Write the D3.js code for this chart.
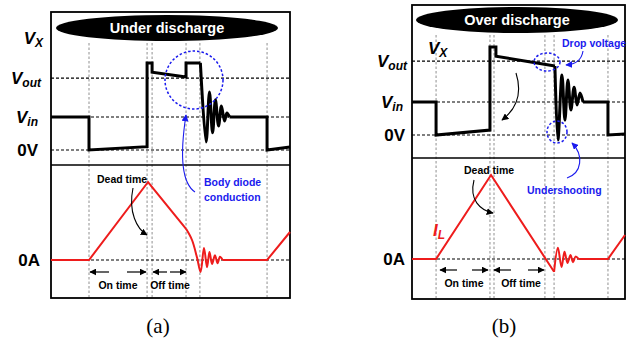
<!DOCTYPE html>
<html>
<head>
<meta charset="utf-8">
<script src="https://cdn.jsdelivr.net/npm/d3@7"></script>
<style>
  body { margin: 0; background: #fff; }
  svg { display: block; font-family: "Liberation Sans", Arial, sans-serif; }
</style>
</head>
<body>
<div class="display"></div>
<script>
const WIDTH = 634;
const HEIGHT = 346;

// time runs 0..100 across each box, voltage in units of Vin, current in units of peak
const gridA = [15.9, 40.2, 42.3, 56.5, 62.3, 90.4];
const gridB = [11.3, 36.6, 38.5, 62.4, 66.7, 92.0];

const levelNames = ['out', 'in', '0V'];
const levelsA = [2.18, 1, 0];
const levelsB = [2.24, 1, 0];

const vxA = [[0, 1], [15.9, 1], [15.9, 0], [40.2, 0.1], [40.2, 2.64], [42.3, 2.64], [42.3, 2.36], [56.5, 2.21], [56.5, 2.64], [62.5, 2.64]];
const vxRingA = [[62.5, 2.64], [64.9, 0.24], [66.3, 1.76], [67.6, 0.52], [68.8, 1.52], [70.1, 0.73], [71.3, 1.33], [72.6, 0.88], [73.6, 1.12], [74.7, 1]];
const vxTailA = [[74.7, 1], [90.4, 1], [90.4, 0], [100, 0.09]];

const ilA = [[0, 0], [15.9, 0], [40.6, 0.975], [56.5, 0.39]];
const ilRingA = [[56.5, 0.39], [59.0, 0.25], [61.1, 0.03], [62.6, -0.15], [64.0, 0.15], [65.3, -0.09], [66.3, 0.10], [67.4, -0.05], [68.6, 0.06], [69.7, -0.04], [70.7, 0.04], [71.8, 0]];
const ilTailA = [[71.8, 0], [90.4, 0], [100, 0.35]];

const vxB = [[0, 1], [11.3, 1], [11.3, 0], [36.6, 0.15], [36.6, 2.67], [39.4, 2.67], [39.4, 2.39], [67.1, 2.09]];
const vxRingB = [[67.1, 2.09], [68.5, -0.15], [70.4, 1.82], [71.8, 0.45], [73.2, 1.67], [74.6, 0.76], [76.1, 1.45], [77.5, 0.91], [78.9, 1.27], [80.3, 1]];
const vxTailB = [[80.3, 1], [92, 1], [92, 0], [100, 0.03]];

const ilB = [[0, 0], [11.3, 0], [37.1, 1.05], [66.7, -0.16]];
const ilRingB = [[66.7, -0.16], [68.5, 0.14], [70.2, -0.10], [71.6, 0.09], [73.0, -0.05], [74.4, 0.05], [75.6, -0.04], [76.8, 0.03], [78.2, 0]];
const ilTailB = [[78.2, 0], [92, 0], [100, 0.30]];

const BLUE = '#1a1aee';
const RED = '#ee1c1c';

const svg = d3.select('.display')
  .append('svg')
  .attr('width', WIDTH)
  .attr('height', HEIGHT);

const defs = svg.append('defs');
function marker(id, color, size) {
  defs.append('marker')
    .attr('id', id)
    .attr('viewBox', '0 0 10 10')
    .attr('refX', 9).attr('refY', 5)
    .attr('markerWidth', size).attr('markerHeight', size)
    .attr('markerUnits', 'userSpaceOnUse')
    .attr('orient', 'auto')
    .append('path')
    .attr('d', 'M0,0 L10,5 L0,10 Z')
    .attr('fill', color);
}
marker('headK', '#000', 7);
marker('headB', BLUE, 7);

function drawPanel(p) {
  const g = svg.append('g');
  const x = d3.scaleLinear().domain([0, 100]).range([p.x0, p.x1]);
  const yV = d3.scaleLinear().domain([0, 1]).range([p.zeroV, p.vinY]);
  const yI = d3.scaleLinear().domain([0, 1]).range([p.zeroI, p.zeroI - 80]);

  // vertical timing guides
  g.selectAll('.guide')
    .data(p.grid)
    .enter()
    .append('line')
    .attr('x1', d => x(d)).attr('x2', d => x(d))
    .attr('y1', p.guideTop).attr('y2', p.y1)
    .attr('stroke', '#9a9a9a')
    .attr('stroke-width', 1.1)
    .attr('stroke-dasharray', '2.5,2');

  // horizontal reference levels
  g.selectAll('.level')
    .data(p.levels)
    .enter()
    .append('line')
    .attr('x1', p.x0).attr('x2', p.x1)
    .attr('y1', d => yV(d)).attr('y2', d => yV(d))
    .attr('stroke', '#000')
    .attr('stroke-width', 1.2)
    .attr('stroke-dasharray', '3,2');
  g.append('line')
    .attr('x1', p.x0).attr('x2', p.x1)
    .attr('y1', yI(0)).attr('y2', yI(0))
    .attr('stroke', '#000')
    .attr('stroke-width', 1.2)
    .attr('stroke-dasharray', '3,2');

  // box
  g.append('rect')
    .attr('x', p.x0).attr('y', p.y0)
    .attr('width', p.x1 - p.x0).attr('height', p.y1 - p.y0)
    .attr('fill', 'none').attr('stroke', '#000').attr('stroke-width', 1.8);
  g.append('line')
    .attr('x1', p.x0).attr('x2', p.x1)
    .attr('y1', p.ymid).attr('y2', p.ymid)
    .attr('stroke', '#000').attr('stroke-width', 1.5);

  // title ellipse
  g.append('ellipse')
    .attr('cx', p.ex).attr('cy', p.ey)
    .attr('rx', p.erx).attr('ry', 13)
    .attr('fill', '#000');
  g.append('text')
    .attr('x', p.ex).attr('y', p.ey + 5)
    .attr('text-anchor', 'middle')
    .attr('fill', '#fff')
    .attr('font-weight', 'bold')
    .attr('font-size', 14.5)
    .text(p.title);

  const lineV = d3.line().x(d => x(d[0])).y(d => yV(d[1]));
  const ringV = d3.line().x(d => x(d[0])).y(d => yV(d[1])).curve(d3.curveCatmullRom.alpha(0.5));
  const lineI = d3.line().x(d => x(d[0])).y(d => yI(d[1]));
  const ringI = d3.line().x(d => x(d[0])).y(d => yI(d[1])).curve(d3.curveCatmullRom.alpha(0.5));

  [[p.vx, lineV], [p.vxRing, ringV], [p.vxTail, lineV]].forEach(([d, gen]) => {
    g.append('path').attr('d', gen(d))
      .attr('fill', 'none').attr('stroke', '#000')
      .attr('stroke-width', 3).attr('stroke-linejoin', 'miter');
  });
  [[p.il, lineI], [p.ilRing, ringI], [p.ilTail, lineI]].forEach(([d, gen]) => {
    g.append('path').attr('d', gen(d))
      .attr('fill', 'none').attr('stroke', RED)
      .attr('stroke-width', 2);
  });

  // left labels
  const lab = g.selectAll('.lab')
    .data(p.levels)
    .enter()
    .append('text')
    .attr('x', (d, i) => p.labelX[i])
    .attr('y', d => yV(d) + 6)
    .attr('text-anchor', 'end')
    .attr('font-weight', 'bold')
    .attr('font-size', 17);
  lab.each(function(d, i) {
    const t = d3.select(this);
    if (levelNames[i] === '0V') {
      t.text('0V');
    } else {
      t.append('tspan').attr('font-style', 'italic').text('V');
      t.append('tspan').attr('font-style', 'italic').attr('font-size', 12).attr('dy', 3).text(levelNames[i]);
    }
  });
  g.append('text')
    .attr('x', p.zeroLabelX).attr('y', yI(0) + 6)
    .attr('text-anchor', 'end')
    .attr('font-weight', 'bold').attr('font-size', 17)
    .text('0A');

  // Vx label
  const vx = g.append('text')
    .attr('x', p.vxLabel[0]).attr('y', p.vxLabel[1])
    .attr('text-anchor', p.vxAnchor)
    .attr('font-weight', 'bold').attr('font-style', 'italic').attr('font-size', 17);
  vx.append('tspan').text('V');
  vx.append('tspan').attr('font-size', 12).attr('dy', 3).text('X');

  // on/off time arrows
  g.selectAll('.tarrow')
    .data(p.timeArrows)
    .enter()
    .append('line')
    .attr('x1', d => d[0]).attr('x2', d => d[1])
    .attr('y1', p.arrowY).attr('y2', p.arrowY)
    .attr('stroke', '#000').attr('stroke-width', 1.2)
    .attr('marker-end', 'url(#headK)');
  g.append('text')
    .attr('x', p.onX).attr('y', p.arrowY + 17)
    .attr('text-anchor', 'middle').attr('font-size', 10.5).attr('font-weight', 'bold')
    .text('On time');
  g.append('text')
    .attr('x', p.offX).attr('y', p.arrowY + 17)
    .attr('text-anchor', 'middle').attr('font-size', 10.5).attr('font-weight', 'bold')
    .text('Off time');

  // dead time
  g.append('text')
    .attr('x', p.deadText[0]).attr('y', p.deadText[1])
    .attr('font-size', 10.5).attr('font-weight', 'bold')
    .text('Dead time');
  g.append('path')
    .attr('d', p.deadArrow)
    .attr('fill', 'none').attr('stroke', '#000').attr('stroke-width', 1.1)
    .attr('marker-end', 'url(#headK)');

  // caption
  g.append('text')
    .attr('x', p.capX).attr('y', 333)
    .attr('text-anchor', 'middle')
    .attr('font-family', '"Liberation Serif", "Times New Roman", serif')
    .attr('font-size', 21)
    .text(p.caption);

  return g;
}

const ga = drawPanel({
  x0: 51, x1: 290, y0: 12, y1: 298, ymid: 165,
  zeroV: 150, vinY: 117, zeroI: 260, guideTop: 43,
  grid: gridA, levels: levelsA,
  vx: vxA, vxRing: vxRingA, vxTail: vxTailA,
  il: ilA, ilRing: ilRingA, ilTail: ilTailA,
  ex: 167, ey: 28, erx: 111, title: 'Under discharge',
  labelX: [41, 38, 38], zeroLabelX: 40,
  vxLabel: [43, 44], vxAnchor: 'end',
  arrowY: 272, timeArrows: [[109, 90], [127, 146], [167, 153], [170, 186]],
  onX: 118, offX: 170,
  deadText: [97, 183], deadArrow: 'M133,188 C128,212 137,229 147,235',
  capX: 158, caption: '(a)'
});

ga.append('circle')
  .attr('cx', 194).attr('cy', 80).attr('r', 29)
  .attr('fill', 'none').attr('stroke', BLUE).attr('stroke-width', 1.5)
  .attr('stroke-dasharray', '2.5,2');
ga.append('path')
  .attr('d', 'M195,192 C183,184 179,160 186,115')
  .attr('fill', 'none').attr('stroke', BLUE).attr('stroke-width', 1.1)
  .attr('marker-end', 'url(#headB)');
ga.append('text').attr('x', 204).attr('y', 186)
  .attr('fill', BLUE).attr('font-size', 10.5).attr('font-weight', 'bold').text('Body diode');
ga.append('text').attr('x', 204).attr('y', 201)
  .attr('fill', BLUE).attr('font-size', 10.5).attr('font-weight', 'bold').text('conduction');

const gb = drawPanel({
  x0: 412, x1: 625, y0: 5, y1: 299, ymid: 158,
  zeroV: 135, vinY: 102, zeroI: 259, guideTop: 35,
  grid: gridB, levels: levelsB,
  vx: vxB, vxRing: vxRingB, vxTail: vxTailB,
  il: ilB, ilRing: ilRingB, ilTail: ilTailB,
  ex: 517, ey: 20, erx: 101, title: 'Over discharge',
  labelX: [407, 403, 405], zeroLabelX: 405,
  vxLabel: [428, 54], vxAnchor: 'start',
  arrowY: 270, timeArrows: [[457, 440], [472, 488], [511, 494], [528, 544]],
  onX: 464, offX: 521,
  deadText: [464, 174], deadArrow: 'M474,180 C469,200 480,210 493,213',
  capX: 504, caption: '(b)'
});

gb.append('ellipse')
  .attr('cx', 547).attr('cy', 62).attr('rx', 13).attr('ry', 9)
  .attr('fill', 'none').attr('stroke', BLUE).attr('stroke-width', 1.5)
  .attr('stroke-dasharray', '2.5,2');
gb.append('ellipse')
  .attr('cx', 557).attr('cy', 132).attr('rx', 10).attr('ry', 11)
  .attr('fill', 'none').attr('stroke', BLUE).attr('stroke-width', 1.5)
  .attr('stroke-dasharray', '2.5,2');
gb.append('text').attr('x', 562).attr('y', 47)
  .attr('fill', BLUE).attr('font-size', 10.5).attr('font-weight', 'bold').text('Drop voltage');
gb.append('path')
  .attr('d', 'M583,51 Q581,64 566,65')
  .attr('fill', 'none').attr('stroke', BLUE).attr('stroke-width', 1.1)
  .attr('marker-end', 'url(#headB)');
gb.append('text').attr('x', 527).attr('y', 194)
  .attr('fill', BLUE).attr('font-size', 10.5).attr('font-weight', 'bold').text('Undershooting');
gb.append('path')
  .attr('d', 'M567,178 C582,173 584,155 572,143')
  .attr('fill', 'none').attr('stroke', BLUE).attr('stroke-width', 1.1)
  .attr('marker-end', 'url(#headB)');
gb.append('path')
  .attr('d', 'M516,73 C523,95 515,110 502,120')
  .attr('fill', 'none').attr('stroke', '#000').attr('stroke-width', 1.1)
  .attr('marker-end', 'url(#headK)');
const il = gb.append('text')
  .attr('x', 433).attr('y', 236)
  .attr('fill', RED).attr('font-weight', 'bold').attr('font-style', 'italic').attr('font-size', 17);
il.append('tspan').text('I');
il.append('tspan').attr('font-size', 12).attr('dy', 3).text('L');
</script>
</body>
</html>
